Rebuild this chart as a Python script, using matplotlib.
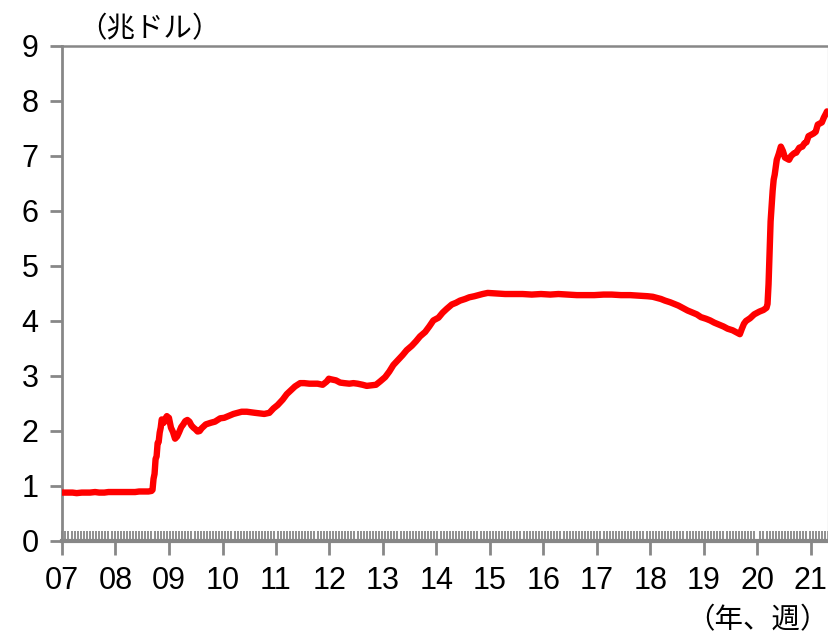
import matplotlib
matplotlib.use("Agg")
import matplotlib.pyplot as plt
import matplotlib.dates as mdates
from matplotlib.ticker import FixedLocator
import pandas as pd

plt.rcParams['font.family'] = ['Liberation Sans', 'Noto Sans CJK JP', 'DejaVu Sans']

# Fed total assets (trillion USD), sampled dates and values
dates = [
    "2007-01-03", "2007-02-14", "2007-03-14", "2007-04-11", "2007-05-16", "2007-06-13",
    "2007-07-11", "2007-08-15", "2007-09-12", "2007-10-17", "2007-11-14", "2007-12-12",
    "2008-01-16", "2008-02-13", "2008-03-12", "2008-04-16", "2008-05-14", "2008-06-11",
    "2008-07-16", "2008-08-13", "2008-09-03", "2008-09-10", "2008-09-17", "2008-09-24",
    "2008-10-01", "2008-10-08", "2008-10-15", "2008-10-22", "2008-10-29", "2008-11-05",
    "2008-11-12", "2008-11-19", "2008-11-26", "2008-12-03", "2008-12-10", "2008-12-17",
    "2008-12-24", "2008-12-31", "2009-01-14", "2009-01-28", "2009-02-11", "2009-02-25",
    "2009-03-11", "2009-03-25", "2009-04-08", "2009-04-22", "2009-05-06", "2009-05-20",
    "2009-06-03", "2009-06-17", "2009-07-01", "2009-07-15", "2009-07-29", "2009-08-12",
    "2009-09-09", "2009-10-14", "2009-11-11", "2009-12-16",
    "2010-01-13", "2010-02-17", "2010-03-17", "2010-04-14", "2010-05-12", "2010-06-16",
    "2010-07-14", "2010-08-11", "2010-09-15", "2010-10-13", "2010-11-17", "2010-12-15",
    "2011-01-12", "2011-02-16", "2011-03-16", "2011-04-13", "2011-05-11", "2011-06-15",
    "2011-07-13", "2011-08-17", "2011-09-14", "2011-10-12", "2011-11-16", "2011-12-14",
    "2011-12-28", "2012-01-11", "2012-02-15", "2012-03-14", "2012-04-11", "2012-05-16",
    "2012-06-13", "2012-07-11", "2012-08-15", "2012-09-12", "2012-10-17", "2012-11-14",
    "2012-12-12", "2013-01-16", "2013-02-13", "2013-03-13", "2013-04-17", "2013-05-15",
    "2013-06-12", "2013-07-17", "2013-08-14", "2013-09-11", "2013-10-16", "2013-11-13",
    "2013-12-11", "2014-01-15", "2014-02-12", "2014-03-12", "2014-04-16", "2014-05-14",
    "2014-06-11", "2014-07-16", "2014-08-13", "2014-09-17", "2014-10-15", "2014-11-12",
    "2014-12-17", "2015-02-11", "2015-04-15", "2015-06-17", "2015-08-12", "2015-10-14",
    "2015-12-16", "2016-02-17", "2016-04-13", "2016-06-15", "2016-08-17", "2016-10-12",
    "2016-12-14", "2017-02-15", "2017-04-12", "2017-06-14", "2017-08-16", "2017-10-18",
    "2017-12-13", "2018-01-17", "2018-02-14", "2018-03-14", "2018-04-11", "2018-05-16",
    "2018-06-13", "2018-07-11", "2018-08-15", "2018-09-12", "2018-10-17", "2018-11-14",
    "2018-12-12", "2019-01-16", "2019-02-13", "2019-03-13", "2019-04-17", "2019-05-15",
    "2019-06-12", "2019-07-17", "2019-08-14", "2019-09-04", "2019-09-18", "2019-10-02",
    "2019-10-16", "2019-11-13", "2019-12-11", "2020-01-15", "2020-02-12", "2020-03-04",
    "2020-03-11", "2020-03-18", "2020-03-25", "2020-04-01", "2020-04-08", "2020-04-15",
    "2020-04-22", "2020-04-29", "2020-05-13", "2020-05-27", "2020-06-10", "2020-06-24",
    "2020-07-08", "2020-07-22", "2020-08-05", "2020-08-19", "2020-09-09", "2020-09-23",
    "2020-10-14", "2020-11-04", "2020-11-18", "2020-12-02", "2020-12-16", "2021-01-06",
    "2021-01-20", "2021-02-03", "2021-02-17", "2021-03-03", "2021-03-17", "2021-03-31",
    "2021-04-14", "2021-04-21",
]
assets = [
    0.88, 0.88, 0.88, 0.87, 0.88, 0.88,
    0.88, 0.89, 0.88, 0.88, 0.89, 0.89,
    0.89, 0.89, 0.89, 0.89, 0.89, 0.90,
    0.90, 0.90, 0.91, 0.93, 1.13, 1.22,
    1.49, 1.54, 1.78, 1.80, 1.97, 2.06,
    2.21, 2.17, 2.15, 2.19, 2.24, 2.27,
    2.25, 2.24, 2.06, 1.98, 1.86, 1.90,
    1.98, 2.07, 2.12, 2.18, 2.20, 2.17,
    2.10, 2.06, 2.03, 1.99, 2.00, 2.05,
    2.12, 2.15, 2.17, 2.23,
    2.24, 2.28, 2.31, 2.33, 2.35, 2.35,
    2.34, 2.33, 2.32, 2.31, 2.33, 2.41,
    2.47, 2.57, 2.67, 2.74, 2.81, 2.87,
    2.87, 2.86, 2.86, 2.86, 2.84, 2.90,
    2.95, 2.94, 2.92, 2.88, 2.87, 2.86,
    2.87, 2.86, 2.84, 2.82, 2.83, 2.84,
    2.90, 2.98, 3.08, 3.20, 3.30, 3.38,
    3.47, 3.55, 3.63, 3.72, 3.80, 3.90,
    4.01, 4.06, 4.15, 4.22, 4.30, 4.33,
    4.37, 4.40, 4.43, 4.45, 4.47, 4.49,
    4.51, 4.50, 4.49, 4.49, 4.49, 4.48,
    4.49, 4.48, 4.49, 4.48, 4.47, 4.47,
    4.47, 4.48, 4.48, 4.47, 4.47, 4.46,
    4.45, 4.44, 4.42, 4.40, 4.37, 4.34,
    4.31, 4.28, 4.23, 4.19, 4.15, 4.12,
    4.07, 4.04, 4.01, 3.97, 3.93, 3.90,
    3.86, 3.83, 3.79, 3.76, 3.86, 3.95,
    4.00, 4.05, 4.12, 4.17, 4.20, 4.24,
    4.31, 4.67, 5.25, 5.81, 6.08, 6.37,
    6.57, 6.66, 6.93, 7.04, 7.17, 7.09,
    6.97, 6.95, 6.93, 7.00, 7.05, 7.06,
    7.15, 7.17, 7.23, 7.25, 7.36, 7.39,
    7.41, 7.44, 7.57, 7.59, 7.61, 7.70,
    7.77, 7.81,
]
year_ticks = ["2007-01-01", "2008-01-01", "2009-01-01", "2010-01-01", "2011-01-01",
              "2012-01-01", "2013-01-01", "2014-01-01", "2015-01-01", "2016-01-01",
              "2017-01-01", "2018-01-01", "2019-01-01", "2020-01-01", "2021-01-01"]
year_labels = ["07", "08", "09", "10", "11", "12", "13", "14", "15", "16",
               "17", "18", "19", "20", "21"]
y_ticks = [0, 1, 2, 3, 4, 5, 6, 7, 8, 9]

x = pd.to_datetime(dates)
gray = "#878787"
jp = ["Noto Sans CJK JP", "DejaVu Sans"]

fig = plt.figure(figsize=(8.29, 6.40), dpi=100)
ax = fig.add_axes([0.0748, 0.1547, 0.9240, 0.7735])

ax.plot(x, assets, color="#ff0000", lw=4.6, solid_joinstyle="round",
        solid_capstyle="round", zorder=3)

ax.set_ylim(0, 9)
ax.set_xlim(pd.Timestamp("2007-01-01"), pd.Timestamp("2021-04-28"))

ax.set_yticks(y_ticks)
ax.set_xticks(pd.to_datetime(year_ticks))
ax.set_xticklabels(year_labels)

# weekly-grid minor ticks every third week
minor = pd.date_range("2007-01-03", "2021-04-28", freq="21D")
ax.xaxis.set_minor_locator(FixedLocator(mdates.date2num(minor)))

ax.tick_params(axis="x", which="major", direction="out", length=10, width=2,
               color=gray, labelsize=22, pad=8)
ax.tick_params(axis="x", which="minor", direction="in", length=7, width=1.3,
               color=gray)
ax.tick_params(axis="y", which="major", direction="out", length=9, width=2,
               color=gray, labelsize=22, pad=8)

ax.spines["left"].set_color(gray)
ax.spines["left"].set_linewidth(2)
ax.spines["bottom"].set_color(gray)
ax.spines["bottom"].set_linewidth(3)
ax.spines["top"].set_color(gray)
ax.spines["top"].set_linewidth(1.8)
ax.spines["right"].set_color("#d9d9d9")
ax.spines["right"].set_linewidth(1)

fig.text(0.094, 0.954, "（兆ドル）", fontsize=20.5, ha="left", va="center", family=jp)
fig.text(0.9995, 0.031, "（年、週）", fontsize=20.5, ha="right", va="center", family=jp)

fig.savefig("out.png", dpi=100)
